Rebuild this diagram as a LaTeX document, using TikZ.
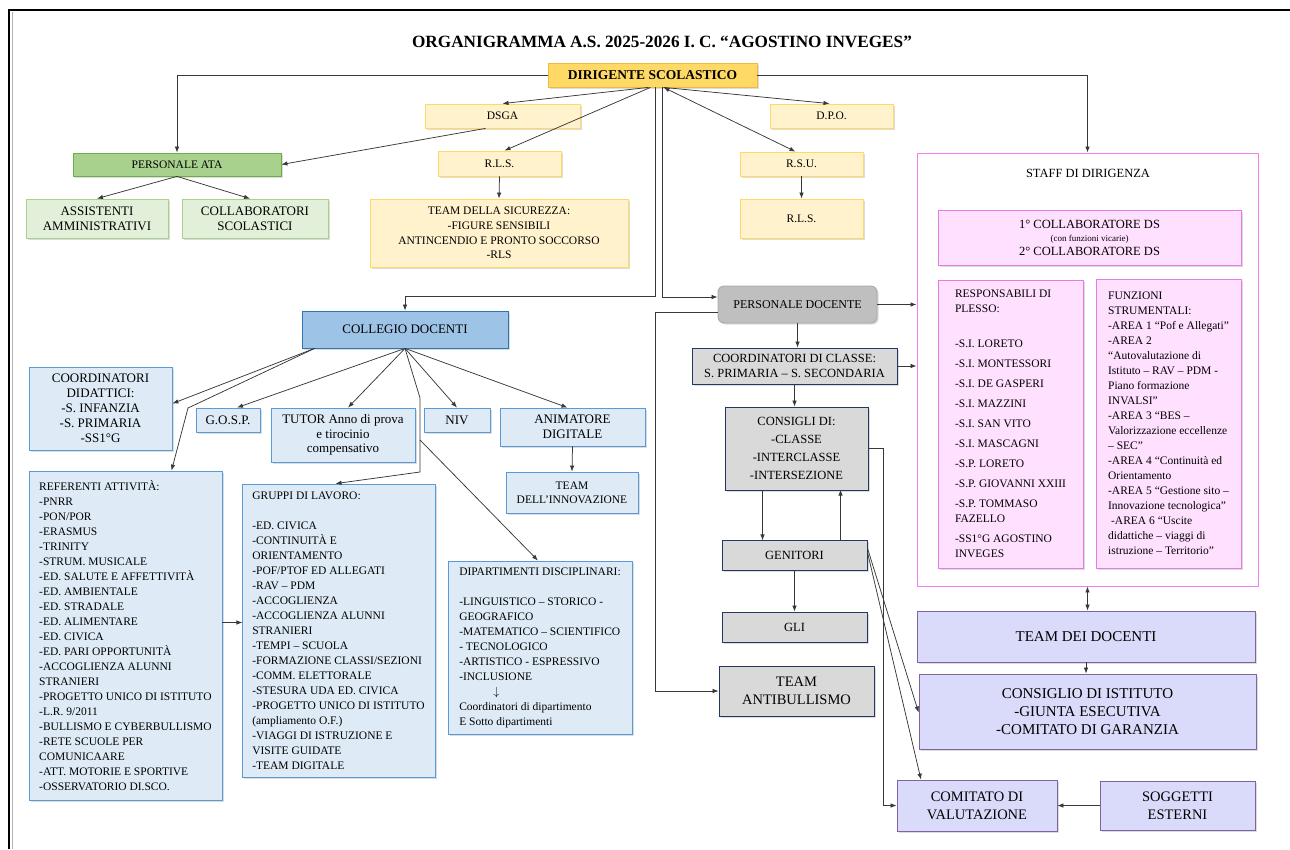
\documentclass[tikz,border=0pt]{standalone}
\usepackage{fontspec}
\setmainfont{Liberation Serif}
\usetikzlibrary{arrows.meta,shadows}

\definecolor{dirFill}{HTML}{FFD966}
\definecolor{dirLine}{HTML}{F2B643}
\definecolor{yelFill}{HTML}{FFF2CC}
\definecolor{yelLine}{HTML}{FFD966}
\definecolor{ataFill}{HTML}{A9D18E}
\definecolor{ataLine}{HTML}{70AD47}
\definecolor{grnFill}{HTML}{E2F0D9}
\definecolor{grnLine}{HTML}{A9D18E}
\definecolor{colFill}{HTML}{9DC3E6}
\definecolor{colLine}{HTML}{2E75B6}
\definecolor{bluFill}{HTML}{DEEBF7}
\definecolor{bluLine}{HTML}{5B9BD5}
\definecolor{docFill}{HTML}{BFBFBF}
\definecolor{docLine}{HTML}{A6A6A6}
\definecolor{gryFill}{HTML}{D9D9D9}
\definecolor{gryLine}{HTML}{1F3864}
\definecolor{stfLine}{HTML}{F27EF2}
\definecolor{pnkFill}{HTML}{FFE1FF}
\definecolor{pnkLine}{HTML}{E57BE5}
\definecolor{lavFill}{HTML}{DADAFA}
\definecolor{lavLine}{HTML}{8064A2}
\definecolor{lineGray}{HTML}{383838}

\newcommand{\fsz}[2]{\fontsize{#1}{#2}\selectfont}

\tikzset{
  box/.style={rectangle, draw, line width=0.8pt, align=center, inner sep=2pt,
    drop shadow={shadow xshift=1.6pt, shadow yshift=-1.6pt, opacity=0.28}},
  dirbox/.style={box, fill=dirFill, draw=dirLine, font=\fsz{13.5}{16}\bfseries},
  yelbox/.style={box, fill=yelFill, draw=yelLine, font=\fsz{11.5}{14.7}},
  atabox/.style={box, fill=ataFill, draw=ataLine, font=\fsz{11.5}{14}},
  grnbox/.style={box, fill=grnFill, draw=grnLine, font=\fsz{13}{15}},
  colbox/.style={box, fill=colFill, draw=colLine, font=\fsz{13}{15}},
  blubox/.style={box, fill=bluFill, draw=bluLine, font=\fsz{13}{15}},
  listbox/.style={blubox, align=left, font=\fsz{11.5}{15}},
  docbox/.style={box, fill=docFill, draw=docLine, rounded corners=6pt, font=\fsz{12}{14}},
  grybox/.style={box, fill=gryFill, draw=gryLine, font=\fsz{12.5}{15}},
  staffbox/.style={rectangle, draw=stfLine, line width=0.9pt, fill=white},
  pnkbox/.style={box, fill=pnkFill, draw=pnkLine, font=\fsz{11.5}{15}},
  lavbox/.style={box, fill=lavFill, draw=lavLine, font=\fsz{15}{18}},
  conn/.style={draw=lineGray, line width=0.75pt, -{Latex[length=6pt,width=4.5pt]}},
  dconn/.style={conn, {Latex[length=6pt,width=4.5pt]}-{Latex[length=6pt,width=4.5pt]}},
}

\begin{document}
\begin{tikzpicture}[x=1pt, y=-1pt]
	\useasboundingbox (0,0) rectangle (1290,849);

	% Page frame
	\draw[line width=2pt] (9,849) -- (9,10) -- (1290,10);
	\draw[gray!60, line width=0.6pt] (12.5,849) -- (12.5,12);

	% Title
	\node[font=\fsz{17.2}{20}\bfseries] (title) at (662,42) {ORGANIGRAMMA A.S. 2025-2026 I. C. “AGOSTINO INVEGES”};

	% Top level
	\node[dirbox, minimum width=209pt, minimum height=24pt] (dirigente) at (652.5,75) {DIRIGENTE SCOLASTICO};
	\node[yelbox, minimum width=155pt, minimum height=24pt] (dsga) at (502.5,116) {DSGA};
	\node[yelbox, minimum width=123pt, minimum height=24pt] (dpo) at (831.5,116) {D.P.O.};
	\node[atabox, minimum width=208pt, minimum height=23pt] (ata) at (177,164.5) {PERSONALE ATA};
	\node[yelbox, minimum width=123pt, minimum height=25pt] (rlsA) at (499.5,163.5) {R.L.S.};
	\node[yelbox, minimum width=123pt, minimum height=24pt] (rsu) at (801.5,164) {R.S.U.};
	\node[grnbox, minimum width=142pt, minimum height=39pt] (assist) at (97,218.5) {ASSISTENTI\\AMMINISTRATIVI};
	\node[grnbox, minimum width=146pt, minimum height=39pt] (collab) at (255,218.5) {COLLABORATORI\\SCOLASTICI};
	\node[yelbox, minimum width=258pt, minimum height=68pt] (sicur) at (499,233) {TEAM DELLA SICUREZZA:\\-FIGURE SENSIBILI\\ANTINCENDIO E PRONTO SOCCORSO\\-RLS};
	\node[yelbox, minimum width=123pt, minimum height=39pt] (rlsB) at (801.5,218.5) {R.L.S.};

	% Staff
	\node[staffbox, minimum width=341pt, minimum height=433pt] (staff) at (1087.5,369.5) {};
	\node[font=\fsz{12.5}{15}] (stafftitle) at (1088,173) {STAFF DI DIRIGENZA};
	\node[pnkbox, font=\fsz{12.5}{13.5}, minimum width=303pt, minimum height=55pt] (vicari) at (1089.5,237.5) {1° COLLABORATORE DS\\{\fsz{9}{11}(con funzioni vicarie)}\\2° COLLABORATORE DS};
	\node[pnkbox, align=left, minimum width=145pt, minimum height=288pt] (plesso) at (1010.5,424) {RESPONSABILI DI\\PLESSO:\\[20pt]
		-S.I. LORETO\\[5pt]-S.I. MONTESSORI\\[5pt]-S.I. DE GASPERI\\[5pt]-S.I. MAZZINI\\[5pt]-S.I. SAN VITO\\[5pt]-S.I. MASCAGNI\\[5pt]-S.P. LORETO\\[5pt]-S.P. GIOVANNI XXIII\\[5pt]-S.P. TOMMASO\\FAZELLO\\[5pt]-SS1°G AGOSTINO\\INVEGES};
	\node[pnkbox, align=left, minimum width=145pt, minimum height=289pt] (funz) at (1168.5,423.5) {FUNZIONI\\STRUMENTALI:\\-AREA 1 “Pof e Allegati”\\-AREA 2\\“Autovalutazione di\\Istituto – RAV – PDM -\\Piano formazione\\INVALSI”\\-AREA 3 “BES –\\Valorizzazione eccellenze\\– SEC”\\-AREA 4 “Continuità ed\\Orientamento\\-AREA 5 “Gestione sito –\\Innovazione tecnologica”\\\hspace*{3pt}-AREA 6 “Uscite\\didattiche – viaggi di\\istruzione – Territorio”};

	% Docenti
	\node[colbox, minimum width=206pt, minimum height=37pt] (collegio) at (405,329.5) {COLLEGIO DOCENTI};
	\node[docbox, minimum width=159pt, minimum height=37pt] (docente) at (797.5,304.5) {PERSONALE DOCENTE};
	\node[grybox, minimum width=205pt, minimum height=36pt] (coordcl) at (794.5,366) {COORDINATORI DI CLASSE:\\S. PRIMARIA – S. SECONDARIA};
	\node[grybox, font=\fsz{12.5}{18}, minimum width=143pt, minimum height=83pt] (consigli) at (796.5,448.5) {CONSIGLI DI:\\-CLASSE\\-INTERCLASSE\\-INTERSEZIONE};
	\node[grybox, minimum width=145pt, minimum height=30pt] (genitori) at (794.5,555) {GENITORI};
	\node[grybox, minimum width=145pt, minimum height=30pt] (gli) at (794.5,627) {GLI};
	\node[grybox, font=\fsz{14.5}{18}, minimum width=155pt, minimum height=50pt] (antibull) at (796.5,691) {TEAM\\ANTIBULLISMO};

	\node[blubox, minimum width=143pt, minimum height=83pt] (coorddid) at (100.5,408.5) {COORDINATORI\\DIDATTICI:\\-S. INFANZIA\\-S. PRIMARIA\\-SS1°G};
	\node[blubox, minimum width=64pt, minimum height=24pt] (gosp) at (228,420) {G.O.S.P.};
	\node[blubox, font=\fsz{13}{14.5}, minimum width=144pt, minimum height=54pt] (tutor) at (343,435) {TUTOR Anno di prova\\e tirocinio\\compensativo};
	\node[blubox, minimum width=66pt, minimum height=24pt] (niv) at (457,420) {NIV};
	\node[blubox, minimum width=145pt, minimum height=38pt] (animatore) at (572.5,427) {ANIMATORE\\DIGITALE};
	\node[blubox, font=\fsz{11.5}{14}, minimum width=132pt, minimum height=41pt] (innov) at (572,492.5) {TEAM\\DELL’INNOVAZIONE};

	\node[listbox, minimum width=193pt, minimum height=329pt] (referenti) at (125.5,635.5) {REFERENTI ATTIVITÀ:\\-PNRR\\-PON/POR\\-ERASMUS\\-TRINITY\\-STRUM. MUSICALE\\-ED. SALUTE E AFFETTIVITÀ\\-ED. AMBIENTALE\\-ED. STRADALE\\-ED. ALIMENTARE\\-ED. CIVICA\\-ED. PARI OPPORTUNITÀ\\-ACCOGLIENZA ALUNNI\\STRANIERI\\-PROGETTO UNICO DI ISTITUTO\\-L.R. 9/2011\\-BULLISMO E CYBERBULLISMO\\-RETE SCUOLE PER\\COMUNICAARE\\-ATT. MOTORIE E SPORTIVE\\-OSSERVATORIO DI.SCO.};
	\node[listbox, minimum width=193pt, minimum height=293pt] (gruppi) at (338.5,630.5) {GRUPPI DI LAVORO:\\[15pt]-ED. CIVICA\\-CONTINUITÀ E\\ORIENTAMENTO\\-POF/PTOF ED ALLEGATI\\-RAV – PDM\\-ACCOGLIENZA\\-ACCOGLIENZA ALUNNI\\STRANIERI\\-TEMPI – SCUOLA\\-FORMAZIONE CLASSI/SEZIONI\\-COMM. ELETTORALE\\-STESURA UDA ED. CIVICA\\-PROGETTO UNICO DI ISTITUTO\\(ampliamento O.F.)\\-VIAGGI DI ISTRUZIONE E\\VISITE GUIDATE\\-TEAM DIGITALE};
	\node[listbox, minimum width=184pt, minimum height=173pt] (dipart) at (540,647.5) {DIPARTIMENTI DISCIPLINARI:\\[15pt]-LINGUISTICO – STORICO -\\GEOGRAFICO\\-MATEMATICO – SCIENTIFICO\\- TECNOLOGICO\\-ARTISTICO - ESPRESSIVO\\-INCLUSIONE\\\hspace*{34pt}$\downarrow$\\Coordinatori di dipartimento\\E Sotto dipartimenti};

	% Organi collegiali
	\node[lavbox, minimum width=338pt, minimum height=51pt] (teamdoc) at (1086,636.5) {TEAM DEI DOCENTI};
	\node[lavbox, minimum width=337pt, minimum height=75pt] (consist) at (1087.5,711.5) {CONSIGLIO DI ISTITUTO\\-GIUNTA ESECUTIVA\\-COMITATO DI GARANZIA};
	\node[lavbox, font=\fsz{14.5}{18}, minimum width=160pt, minimum height=51pt] (comitato) at (977,805.5) {COMITATO DI\\VALUTAZIONE};
	\node[lavbox, font=\fsz{14.5}{18}, minimum width=155pt, minimum height=49pt] (soggetti) at (1177.5,805.5) {SOGGETTI\\ESTERNI};

	% Links from the Dirigente
	\draw[conn] (dirigente.west) -| (ata.north);
	\draw[conn] (dirigente.east) -| (staff.north);
	\draw[conn] ([xshift=-4pt]dirigente.south) -- (dsga.north);
	\draw[conn] ([xshift=-2pt]dirigente.south) -- ([xshift=5pt]rlsA.north);
	\draw[conn] ([xshift=11pt]dirigente.south) -- ([xshift=-2pt]dpo.north);
	\draw[dconn] ([xshift=11pt]dirigente.south) -- ([xshift=-6pt]rsu.north);
	\draw[conn] ([xshift=2.5pt]dirigente.south) |- ([yshift=14pt]collegio.north) -- (collegio.north);
	\draw[conn] ([xshift=10pt]dirigente.south) |- ([yshift=7.5pt]docente.west);

	% ATA and safety
	\draw[conn] ([xshift=-17pt]dsga.south) -- (ata.east);
	\draw[conn] (ata.south) -- (assist.north);
	\draw[conn] (ata.south) -- ([xshift=-5pt]collab.north);
	\draw[conn] (rlsA.south) -- (sicur.north);
	\draw[conn] (rsu.south) -- (rlsB.north);

	% Collegio docenti
	\coordinate (bendR) at (188,408);
	\coordinate (bendGa) at (420,398);
	\coordinate (bendGb) at (420,472);
	\coordinate (bendD) at (420,440);
	\draw[conn] ([xshift=13pt]collegio.south west) -- ([yshift=5pt]coorddid.east);
	\draw[conn] ([xshift=13pt]collegio.south west) -- (bendR) -- ([xshift=46pt]referenti.north);
	\draw[conn] (collegio.south) -- ([xshift=9pt]gosp.north);
	\draw[conn] (collegio.south) -- ([xshift=5pt]tutor.north);
	\draw[conn] (collegio.south) -- (niv.north);
	\draw[conn] (collegio.south) -- ([xshift=-5pt]animatore.north);
	\draw[conn] (collegio.south) -- (bendGa) -- (bendGb) -- ([xshift=-3pt]gruppi.north);
	\draw[conn] (bendD) -- ([xshift=-2pt]dipart.north);
	\draw[conn] (animatore.south) -- (innov.north);
	\draw[conn] ([yshift=13pt]referenti.east) -- ++(20,0);

	% Personale docente
	\draw[conn] (docente.east) -- (docente.east -| staff.west);
	\draw[conn] ([yshift=-8pt]docente.west) -- ++(-62,0) |- (antibull.west);
	\draw[conn] (docente.south) -- (docente.south |- coordcl.north);
	\draw[conn] (coordcl.east) -- (coordcl.east -| staff.west);
	\draw[conn] (coordcl.south) -- (coordcl.south |- consigli.north);
	\draw[conn] ([xshift=-34pt]consigli.south) -- ++(0,50);
	\draw[conn] ([xshift=46pt]genitori.north) -- ++(0,-50);
	\draw[conn] (consigli.east) -- ++(15,0) |- (comitato.west);
	\draw[conn] ([yshift=7pt]genitori.east) -- ([yshift=-1pt]consist.west);
	\draw[conn] ([yshift=3pt]genitori.east) -- ([xshift=-56pt]comitato.north);
	\draw[conn] (genitori.south) -- (gli.north);
	\draw[dconn] (staff.south) -- (staff.south |- teamdoc.north);
	\draw[conn] (teamdoc.south) -- (teamdoc.south |- consist.north);
	\draw[conn] (soggetti.west) -- (soggetti.west -| comitato.east);
\end{tikzpicture}
\end{document}
